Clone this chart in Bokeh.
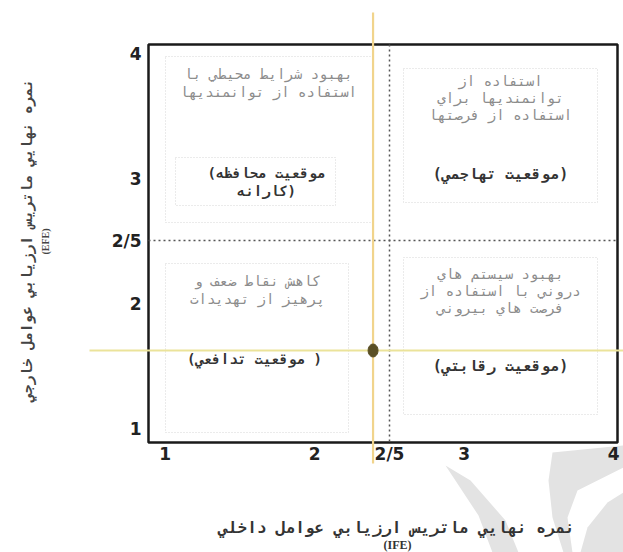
import math
from bokeh.plotting import figure
from bokeh.models import Range1d
from bokeh.core.properties import value
from bokeh.embed import file_html
from bokeh.resources import INLINE

# ---------------- data ----------------
tick_values = [1, 2, 2.5, 3, 4]
tick_labels = ["1", "2", "2/5", "3", "4"]
threshold = 2.5          # IFE / EFE mid value
ife_score = 2.39         # final IFE score
efe_score = 1.62         # final EFE score

x_title = "نمره نهايي ماتريس ارزيابي عوامل داخلي"
x_title_abbr = "(IFE)"
y_title = "نمره نهايي ماتريس ارزيابي عوامل خارجي"
y_title_abbr = "(EFE)"

q_tl_desc = ["بهبود شرايط محيطي با", "استفاده از توانمنديها"]
q_tl_pos = ["(موقعيت محافظه", "كارانه)"]
q_tr_desc = ["استفاده از", "توانمنديها براي", "استفاده از فرصتها"]
q_tr_pos = ["(موقعيت تهاجمي)"]
q_bl_desc = ["كاهش نقاط ضعف و", "پرهيز از تهديدات"]
q_bl_pos = ["(موقعيت تدافعي )"]
q_br_desc = ["بهبود سيستم هاي", "دروني با استفاده از", "فرصت هاي بيروني"]
q_br_pos = ["(موقعيت رقابتي)"]

# ------------- layout helpers (page pixel -> data) -------------
SX, SY = 149.5, 125.0
PX_MID, PY_MID = 389.0, 240.0


def dx(px):
    return threshold + (px - PX_MID) / SX


def dy(py):
    return threshold - (py - PY_MID) / SY


W, H = 623, 552
p = figure(width=W, height=H, x_range=Range1d(dx(0), dx(W)),
           y_range=Range1d(dy(H), dy(0)), output_backend="svg",
           toolbar_location=None, x_axis_location=None, y_axis_location=None,
           min_border=0)
p.grid.visible = False
p.outline_line_color = None
p.background_fill_color = "white"
p.border_fill_color = "white"

# watermark (decoration)
wm_color = "#e3e3e3"
shapes = [
    [(445, 465), (470, 480), (505, 520), (518, 552), (492, 552), (478, 515)],
    [(552, 452), (623, 445), (623, 467), (577, 490), (567, 517), (572, 552),
     (563, 552), (552, 517), (548, 480)],
    [(580, 552), (587, 527), (607, 502), (623, 492), (623, 552)],
]
p.patches(xs=[[dx(a) for a, b in s] for s in shapes],
          ys=[[dy(b) for a, b in s] for s in shapes],
          fill_color=wm_color, line_color=None)

# quadrant frames (light dotted)
qb = [(165, 372, 56, 222), (403, 597, 68, 202), (165, 348, 263, 432), (403, 597, 257, 414),
      (175, 335, 157, 205)]
p.quad(left=[dx(b[0]) for b in qb], right=[dx(b[1]) for b in qb],
       top=[dy(b[2]) for b in qb], bottom=[dy(b[3]) for b in qb],
       fill_color=None, line_color="#d6d6d6", line_width=1, line_dash="1 2")

# main box
box_l, box_r, box_t, box_b = dx(148), dx(617), dy(44), dy(442)
p.quad(left=[box_l], right=[box_r], top=[box_t], bottom=[box_b],
       fill_color=None, line_color="#1a1a1a", line_width=2.5)

# threshold dashed lines
p.segment(x0=[threshold, box_l], y0=[box_t, threshold], x1=[threshold, box_r],
          y1=[box_b, threshold], line_color="#555555", line_width=1.5, line_dash="2 3")

# score cross lines
p.segment(x0=[ife_score], y0=[dy(12)], x1=[ife_score], y1=[dy(463)],
          line_color="#f1d48c", line_width=2.2)
p.segment(x0=[dx(89)], y0=[efe_score], x1=[dx(623)], y1=[efe_score],
          line_color="#ebe39a", line_width=2.2)
p.ellipse(x=[ife_score], y=[efe_score], width=10, height=13,
          width_units="screen", height_units="screen",
          fill_color="#5a4f25", line_color="#5a4f25")

# tick labels
tick_font = value("DejaVu Sans")
p.text(x=tick_values, y=[dy(453)] * len(tick_values), text=tick_labels,
       text_font=tick_font, text_font_style="bold", text_font_size="17px",
       text_align="center", text_baseline="middle", text_color="#222222")
p.text(x=[dx(141)] * len(tick_values), y=tick_values, text=tick_labels,
       text_font=tick_font, text_font_style="bold", text_font_size="17px",
       text_align="right", text_baseline="middle", text_color="#222222")

mono = value("DejaVu Sans Mono")


def block(lines, cx, top_py, step, bold, color, size):
    p.text(x=[cx] * len(lines), y=[dy(top_py + i * step) for i in range(len(lines))],
           text=lines, text_font=mono, text_font_size=size,
           text_font_style="bold" if bold else "normal",
           text_align="center", text_baseline="middle", text_color=color)


desc_col, pos_col = "#8c8c8c", "#333333"
block(q_tl_desc, dx(268), 73, 18, False, desc_col, "14px")
block(q_tl_pos, dx(266), 172, 18, True, pos_col, "14px")
block(q_tr_desc, dx(500), 80, 17, False, desc_col, "14px")
block(q_tr_pos, dx(500), 173, 18, True, pos_col, "15px")
block(q_bl_desc, dx(257), 280, 18, False, desc_col, "14px")
block(q_bl_pos, dx(254), 358, 18, True, pos_col, "14px")
block(q_br_desc, dx(500), 273, 17, False, desc_col, "14px")
block(q_br_pos, dx(500), 365, 18, True, pos_col, "15px")

# axis titles
p.text(x=[dx(396)], y=[dy(527)], text=[x_title], text_font=mono,
       text_font_style="bold", text_font_size="16px", text_align="center",
       text_baseline="middle", text_color="#333333")
p.text(x=[dx(397)], y=[dy(544)], text=[x_title_abbr], text_font=value("Liberation Serif"),
       text_font_style="bold", text_font_size="12px", text_align="center",
       text_baseline="middle", text_color="#333333")
p.text(x=[dx(26)], y=[dy(240)], text=[y_title], text_font=mono,
       text_font_style="bold", text_font_size="14.5px", text_align="center",
       text_baseline="middle", text_color="#444444", angle=math.pi / 2)
p.text(x=[dx(45)], y=[dy(241)], text=[y_title_abbr], text_font=value("Liberation Serif"),
       text_font_style="bold", text_font_size="10px", text_align="center",
       text_baseline="middle", text_color="#444444", angle=math.pi / 2)

open("out.html", "w").write(file_html(p, INLINE))
